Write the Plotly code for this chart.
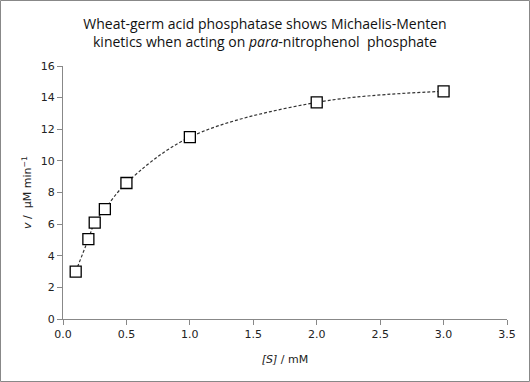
import plotly.graph_objects as go

substrate_mM = [0.1, 0.2, 0.25, 0.33, 0.5, 1.0, 2.0, 3.0]
velocity_uM_min = [3.0, 5.05, 6.1, 6.95, 8.6, 11.5, 13.7, 14.4]
x_ticks = [0.0, 0.5, 1.0, 1.5, 2.0, 2.5, 3.0, 3.5]
x_tick_labels = ["0.0", "0.5", "1.0", "1.5", "2.0", "2.5", "3.0", "3.5"]
y_ticks = [0, 2, 4, 6, 8, 10, 12, 14, 16]

W, H = 530, 382
L, R, T, B = 63, 23, 66, 63
pw, ph = W - L - R, H - T - B

fig = go.Figure()
fig.add_trace(go.Scatter(
    x=substrate_mM, y=velocity_uM_min, mode="lines",
    line=dict(color="#333333", width=1.2, dash="3px,2px", shape="spline", smoothing=1.0),
    showlegend=False, hoverinfo="skip"))
fig.add_trace(go.Scatter(
    x=substrate_mM, y=velocity_uM_min, mode="markers",
    marker=dict(symbol="square", size=11, color="white", line=dict(width=1.3, color="black")),
    showlegend=False))

axis_font = dict(family="DejaVu Sans", size=11, color="#222222")
fig.update_layout(
    width=W, height=H,
    margin=dict(l=L, r=R, t=T, b=B, autoexpand=False),
    paper_bgcolor="white", plot_bgcolor="white",
    title=dict(
        text="Wheat-germ acid phosphatase shows Michaelis-Menten<br>kinetics when acting on <i>para</i>-nitrophenol  phosphate",
        x=0.5, xanchor="center", y=1 - 29 / H, yanchor="middle",
        font=dict(family="Open Sans", size=14, color="#111111")),
    xaxis=dict(range=[0, 3.5], tickvals=x_ticks, ticktext=x_tick_labels, automargin=False,
               showgrid=False, zeroline=False, showline=True, linecolor="#888888", linewidth=1,
               ticks="outside", ticklen=5, tickcolor="#888888", tickfont=axis_font,
               title=dict(text="<i>[S]</i> / mM", font=dict(family="DejaVu Sans", size=11, color="#222222"), standoff=15)),
    yaxis=dict(range=[0, 16], tickvals=y_ticks, automargin=False,
               showgrid=False, zeroline=False, showline=True, linecolor="#888888", linewidth=1,
               ticks="outside", ticklen=5, tickcolor="#888888", tickfont=axis_font,
               title=dict(text="<i>v</i> /  μM min<sup>−1</sup>", font=dict(family="DejaVu Sans", size=11, color="#222222"), standoff=6)),
)

fig.add_shape(type="rect", xref="paper", yref="paper",
              x0=(0.5 - L) / pw, x1=(W - 0.5 - L) / pw,
              y0=(H - T - B - (H - 0.5 - T)) / ph, y1=(H - T - B - (0.5 - T)) / ph,
              line=dict(color="#888888", width=1), fillcolor="rgba(0,0,0,0)", layer="below")

fig.write_html("out.html", config={"displayModeBar": False},
               post_script="document.body.style.margin='0';document.body.style.overflow='hidden';")
